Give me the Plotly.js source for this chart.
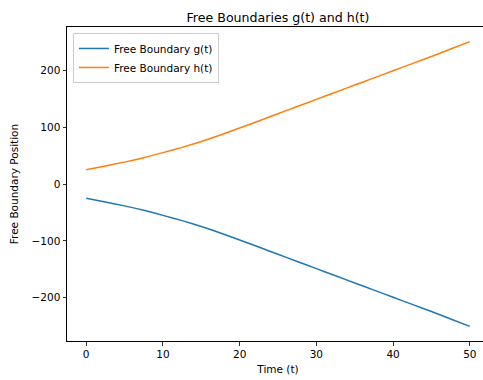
<!DOCTYPE html>
<html>
<head>
<meta charset="utf-8">
<script src="https://cdn.plot.ly/plotly-3.0.1.min.js"></script>
<style>
html,body{margin:0;padding:0;overflow:hidden;background:#fff;}
#chart{width:489px;height:380px;}
</style>
</head>
<body>
<div id="chart"></div>
<script>
const timeT = [0, 2.5, 5, 7.5, 10, 12.5, 15, 17.5, 20, 22.5, 25, 27.5, 30, 32.5, 35, 37.5, 40, 42.5, 45, 47.5, 50];
const boundaryH = [25, 31.6, 38.5, 46.3, 55.2, 64.5, 74.7, 86.1, 98.5, 111.0, 123.7, 136.3, 148.9, 161.5, 174.1, 186.7, 199.3, 211.9, 224.5, 237.5, 250.6];
const boundaryG = [-25, -31.6, -38.5, -46.3, -55.2, -64.5, -74.7, -86.1, -98.5, -111.0, -123.7, -136.3, -148.9, -161.5, -174.1, -186.7, -199.3, -211.9, -224.5, -237.5, -250.6];
const seriesNames = ["Free Boundary g(t)", "Free Boundary h(t)"];
const xTicks = [0, 10, 20, 30, 40, 50];
const yTicks = [-200, -100, 0, 100, 200];

const font = "DejaVu Sans, sans-serif";
const traces = [
  {x: timeT, y: boundaryG, type: "scatter", mode: "lines", name: seriesNames[0],
   line: {color: "#1f77b4", width: 1.5, shape: "spline", smoothing: 0.6}},
  {x: timeT, y: boundaryH, type: "scatter", mode: "lines", name: seriesNames[1],
   line: {color: "#ff7f0e", width: 1.5, shape: "spline", smoothing: 0.6}}
];
const axisCommon = {
  showgrid: false, zeroline: false, showline: true, linecolor: "#000", linewidth: 1,
  mirror: true, ticks: "outside", ticklen: 3.5, tickwidth: 0.8, tickcolor: "#000",
  tickfont: {family: font, size: 10.5, color: "#000"}, automargin: false
};
const layout = {
  width: 489, height: 380,
  margin: {l: 67, r: 0, t: 27, b: 39, pad: 0},
  paper_bgcolor: "#fff", plot_bgcolor: "#fff",
  font: {family: font, color: "#000"},
  title: {text: "Free Boundaries g(t) and h(t)", font: {family: font, size: 12.6, color: "#000"},
          x: 0.5, xref: "paper", xanchor: "center", y: 1, yref: "paper", yanchor: "bottom", pad: {b: 5}},
  xaxis: Object.assign({}, axisCommon, {
    range: [-2.5, 52.5], tickvals: xTicks,
    title: {text: "Time (t)", font: {family: font, size: 10.5, color: "#000"}, standoff: 6}
  }),
  yaxis: Object.assign({}, axisCommon, {
    range: [-276.3, 276.3], tickvals: yTicks,
    title: {text: "Free Boundary Position", font: {family: font, size: 10.5, color: "#000"}, standoff: 10}
  }),
  legend: {x: 0.014, y: 0.981, xanchor: "left", yanchor: "top",
           bgcolor: "rgba(255,255,255,0.8)", bordercolor: "#ccc", borderwidth: 1,
           font: {family: font, size: 10.5, color: "#000"}, tracegroupgap: 0, itemwidth: 30},
  showlegend: true
};
Plotly.newPlot("chart", traces, layout, {staticPlot: true, displayModeBar: false});
</script>
</body>
</html>
